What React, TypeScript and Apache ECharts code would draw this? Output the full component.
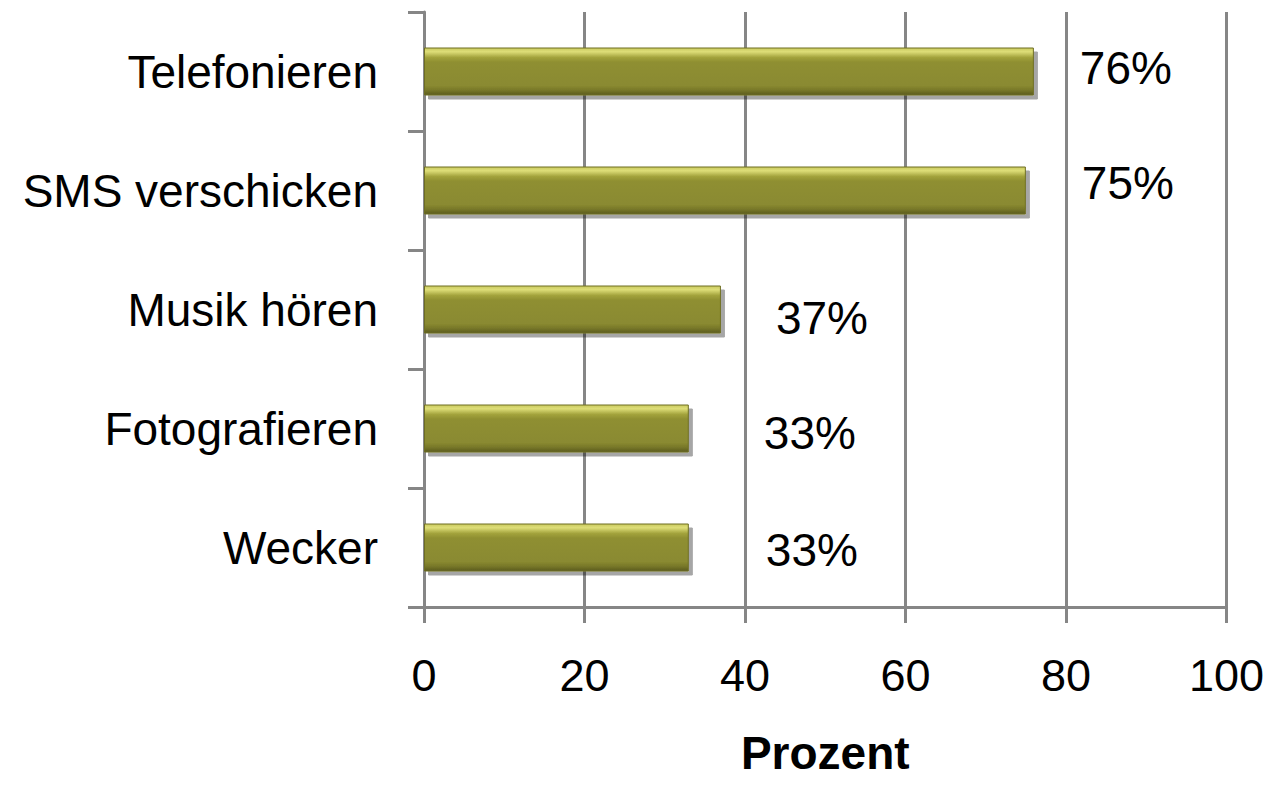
import React, { useEffect, useRef } from "react";
import * as echarts from "echarts";

const categories = ["Telefonieren", "SMS verschicken", "Musik hören", "Fotografieren", "Wecker"];
const values = [76, 75, 37, 33, 33];
const xTicks = [0, 20, 40, 60, 80, 100];
const labelOffsets: [number, number][] = [[41, -4], [51, -8], [50, 8], [70, 4], [72, 2]];

export default function App() {
  const ref = useRef<HTMLDivElement>(null);
  useEffect(() => {
    if (!ref.current) return;
    const chart = echarts.init(ref.current, null, { renderer: "svg" });
    const font = "'Liberation Sans', Arial, sans-serif";
    chart.setOption({
      animation: false,
      backgroundColor: "#ffffff",
      grid: { left: 416, right: 34, top: 4, bottom: 159, containLabel: false },
      xAxis: {
        type: "value",
        min: xTicks[0],
        max: xTicks[xTicks.length - 1],
        interval: 20,
        name: "Prozent",
        nameLocation: "middle",
        nameGap: 123,
        nameTextStyle: { fontFamily: font, fontSize: 46, fontWeight: "bold", color: "#000" },
        axisLine: { show: true, lineStyle: { color: "#868686", width: 3 } },
        axisTick: { show: true, length: 16, lineStyle: { color: "#868686", width: 3 } },
        axisLabel: { fontFamily: font, fontSize: 45, color: "#000", margin: 46 },
        splitLine: { show: true, lineStyle: { color: "#868686", width: 3 } },
      },
      yAxis: {
        type: "category",
        data: categories,
        inverse: true,
        axisLine: { show: true, lineStyle: { color: "#868686", width: 3 } },
        axisTick: { show: true, length: 16, lineStyle: { color: "#868686", width: 3 } },
        axisLabel: { fontFamily: font, fontSize: 46, color: "#000", margin: 46 },
        splitLine: { show: false },
      },
      series: [
        {
          type: "bar",
          barWidth: 48,
          data: values.map((v, i) => ({
            value: v,
            label: { offset: labelOffsets[i] },
          })),
          itemStyle: {
            color: new echarts.graphic.LinearGradient(0, 0, 0, 1, [
              { offset: 0, color: "#c9c95e" },
              { offset: 0.08, color: "#dede78" },
              { offset: 0.2, color: "#a3a33c" },
              { offset: 0.3, color: "#8f8f31" },
              { offset: 0.8, color: "#8a8a30" },
              { offset: 0.9, color: "#777729" },
              { offset: 1, color: "#5c5c1e" },
            ]),
            borderColor: "#6e6e24",
            borderWidth: 1,
            shadowColor: "rgba(0,0,0,0.35)",
            shadowOffsetX: 4,
            shadowOffsetY: 4,
            shadowBlur: 0,
          },
          label: {
            show: true,
            position: "right",
            distance: 5,
            formatter: (p: any) => p.value + "%",
            fontFamily: font,
            fontSize: 46,
            color: "#000",
          },
        },
      ],
    });
    return () => chart.dispose();
  }, []);
  return <div ref={ref} style={{ width: 1259, height: 773 }} />;
}
